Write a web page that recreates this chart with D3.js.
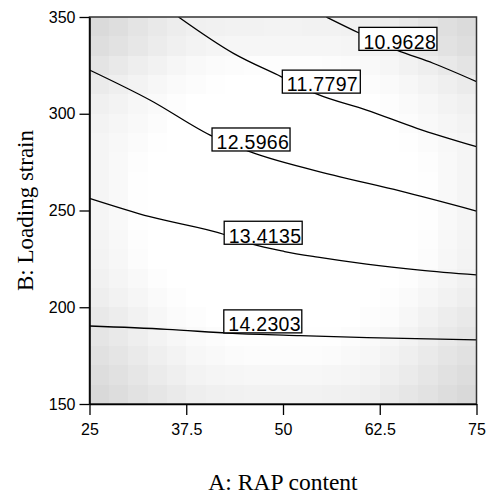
<!DOCTYPE html>
<html>
<head>
<meta charset="utf-8">
<script src="https://cdn.jsdelivr.net/npm/d3@7/dist/d3.min.js"></script>
<style>
  body { margin: 0; background: #fff; }
</style>
</head>
<body>
<div class="chart"></div>
<script>
// Contour plot: A: RAP content vs B: Loading strain
var svgWidth = 486;
var svgHeight = 495;

var margin = { top: 17, right: 9.5, bottom: 91, left: 89.5 };
var width = svgWidth - margin.left - margin.right;
var height = svgHeight - margin.top - margin.bottom;

// axis ticks
var xTicks = [25, 37.5, 50, 62.5, 75];
var yTicks = [150, 200, 250, 300, 350];

// contour levels and their lines (A, B)
var levels = ["10.9628", "11.7797", "12.5966", "13.4135", "14.2303"];
var line10 = [[55.6, 350], [59.9, 341.6], [64.7, 332.9], [69.4, 326.1], [75, 316.6]];
var line11 = [[36.5, 350], [43.6, 331.2], [49.8, 319.1], [54.4, 310.1], [60.8, 301.9], [67.3, 292.5], [75, 283.0]];
var line12 = [[25, 322.6], [32.8, 307.1], [41.0, 288.1], [45.7, 280.4], [56.5, 268.3], [65.1, 260.1], [75, 249.7]];
var line13 = [[25, 256.3], [32.8, 246.8], [42.4, 237.6], [45.9, 232.7], [50.2, 228.8], [54.5, 225.9], [60.8, 222.3], [67.7, 219.2], [75, 216.7]];
var line14 = [[25, 190.3], [35, 188.6], [43.5, 186.5], [52.2, 185.3], [60.9, 184.3], [75, 183.1]];

// label box centres (A, B)
var labelA = [64.85, 54.95, 45.87, 47.44, 47.39];
var labelB = [338.7, 316.6, 286.7, 238.5, 192.7];

// background shading, 20 x 20 cells, darkness (255 - grey), top row first
var shade = [
  [37, 33, 27, 22, 18, 15, 14, 13, 13, 12, 12, 13, 13, 14, 15, 18, 22, 27, 32, 36],
  [33, 29, 24, 19, 15, 12, 10, 9, 9, 9, 9, 9, 9, 10, 12, 15, 19, 24, 29, 33],
  [27, 22, 17, 13, 9, 6, 4, 3, 2, 2, 2, 2, 3, 4, 6, 9, 13, 17, 22, 27],
  [20, 16, 12, 8, 5, 3, 1, 0, 0, 0, 0, 0, 0, 1, 3, 5, 8, 12, 16, 20],
  [15, 12, 8, 5, 2, 0, 0, 0, 0, 0, 0, 0, 0, 0, 0, 2, 5, 8, 12, 15],
  [12, 9, 6, 3, 0, 0, 0, 0, 0, 0, 0, 0, 0, 0, 0, 0, 3, 6, 9, 12],
  [10, 7, 4, 1, 0, 0, 0, 0, 0, 0, 0, 0, 0, 0, 0, 0, 1, 4, 7, 10],
  [10, 6, 2, 0, 0, 0, 0, 0, 0, 0, 0, 0, 0, 0, 0, 0, 0, 2, 6, 10],
  [10, 6, 1, 0, 0, 0, 0, 0, 0, 0, 0, 0, 0, 0, 0, 0, 0, 1, 6, 10],
  [10, 6, 1, 0, 0, 0, 0, 0, 0, 0, 0, 0, 0, 0, 0, 0, 0, 1, 6, 10],
  [10, 6, 1, 0, 0, 0, 0, 0, 0, 0, 0, 0, 0, 0, 0, 0, 0, 1, 6, 10],
  [11, 7, 2, 0, 0, 0, 0, 0, 0, 0, 0, 0, 0, 0, 0, 0, 0, 2, 7, 11],
  [12, 8, 3, 0, 0, 0, 0, 0, 0, 0, 0, 0, 0, 0, 0, 0, 0, 3, 8, 12],
  [14, 10, 6, 2, 0, 0, 0, 0, 0, 0, 0, 0, 0, 0, 0, 0, 2, 6, 10, 14],
  [17, 13, 9, 5, 2, 0, 0, 0, 0, 0, 0, 0, 0, 0, 0, 2, 5, 9, 13, 17],
  [22, 18, 13, 8, 4, 2, 0, 0, 0, 0, 0, 0, 0, 0, 2, 4, 8, 13, 18, 22],
  [26, 22, 17, 12, 8, 5, 3, 1, 1, 1, 1, 1, 1, 3, 5, 8, 12, 17, 22, 26],
  [30, 26, 21, 16, 12, 8, 6, 4, 3, 3, 3, 3, 4, 6, 8, 12, 16, 21, 26, 30],
  [34, 30, 25, 20, 16, 12, 10, 9, 8, 8, 8, 8, 9, 10, 12, 16, 20, 25, 30, 34],
  [38, 34, 29, 25, 21, 17, 15, 14, 13, 13, 13, 13, 14, 15, 17, 21, 25, 29, 34, 38]
];

var svg = d3.select(".chart")
  .append("svg")
  .attr("width", svgWidth)
  .attr("height", svgHeight);

var chartGroup = svg.append("g")
  .attr("transform", `translate(${margin.left}, ${margin.top})`);

var xLinearScale = d3.scaleLinear().domain([25, 75]).range([0, width]);
var yLinearScale = d3.scaleLinear().domain([150, 350]).range([height, 0]);

// shaded cells
var nCols = shade[0].length;
var nRows = shade.length;
var cellA = 50 / nCols;
var cellB = 200 / nRows;
var cells = [];
shade.forEach(function (row, j) {
  row.forEach(function (d, i) {
    cells.push({ i: i, j: j, d: d });
  });
});

chartGroup.append("g")
  .selectAll("rect")
  .data(cells)
  .enter()
  .append("rect")
  .attr("x", d => xLinearScale(25 + d.i * cellA))
  .attr("y", d => yLinearScale(350 - d.j * cellB))
  .attr("width", d => xLinearScale(25 + (d.i + 1) * cellA) - xLinearScale(25 + d.i * cellA) + 0.5)
  .attr("height", d => yLinearScale(350 - (d.j + 1) * cellB) - yLinearScale(350 - d.j * cellB) + 0.5)
  .attr("fill", d => d3.rgb(255 - d.d, 255 - d.d, 255 - d.d))
  .attr("shape-rendering", "crispEdges");

// clip for contours
svg.append("defs").append("clipPath")
  .attr("id", "plotClip")
  .append("rect")
  .attr("width", width)
  .attr("height", height);

var lineGen = d3.line()
  .x(d => xLinearScale(d[0]))
  .y(d => yLinearScale(d[1]))
  .curve(d3.curveMonotoneX);

var contourLines = [line10, line11, line12, line13, line14];

chartGroup.append("g")
  .attr("clip-path", "url(#plotClip)")
  .selectAll("path")
  .data(contourLines)
  .enter()
  .append("path")
  .attr("d", lineGen)
  .attr("fill", "none")
  .attr("stroke", "#000")
  .attr("stroke-width", 1.3);

// contour labels
var labelGroup = chartGroup.selectAll(".clabel")
  .data(levels)
  .enter()
  .append("g")
  .attr("class", "clabel")
  .attr("transform", (d, i) => `translate(${xLinearScale(labelA[i])}, ${yLinearScale(labelB[i])})`);

labelGroup.append("rect")
  .attr("x", -39)
  .attr("y", -11.5)
  .attr("width", 78)
  .attr("height", 23)
  .attr("fill", "#fff")
  .attr("stroke", "#000")
  .attr("stroke-width", 1.3);

labelGroup.append("text")
  .attr("x", -34.5)
  .attr("y", 9.8)
  .attr("font-family", "Liberation Sans, Arial, sans-serif")
  .attr("font-size", "19.5px")
  .attr("letter-spacing", "0.3px")
  .attr("fill", "#000")
  .text(d => d);

// frame
chartGroup.append("rect")
  .attr("width", width)
  .attr("height", height)
  .attr("fill", "none")
  .attr("stroke", "#333")
  .attr("stroke-width", 1.5);

// axes
var bottomAxis = d3.axisBottom(xLinearScale)
  .tickValues(xTicks)
  .tickSize(11)
  .tickSizeOuter(0)
  .tickPadding(9)
  .tickFormat(d => d);

var leftAxis = d3.axisLeft(yLinearScale)
  .tickValues(yTicks)
  .tickSize(10)
  .tickSizeOuter(0)
  .tickPadding(4)
  .tickFormat(d => d);

var xAxis = chartGroup.append("g")
  .attr("transform", `translate(0, ${height})`)
  .call(bottomAxis);

var yAxis = chartGroup.append("g")
  .call(leftAxis);

[xAxis, yAxis].forEach(function (ax) {
  ax.select(".domain").attr("stroke", "#000").attr("stroke-width", 1.5);
  ax.selectAll(".tick line").attr("stroke", "#000").attr("stroke-width", 1.3);
  ax.selectAll(".tick text")
    .attr("font-family", "Liberation Sans, Arial, sans-serif")
    .attr("font-size", "16px")
    .attr("fill", "#000");
});

// axis titles
svg.append("text")
  .attr("x", margin.left + width / 2)
  .attr("y", 490)
  .attr("text-anchor", "middle")
  .attr("font-family", "Liberation Serif, Times New Roman, serif")
  .attr("font-size", "23.5px")
  .attr("fill", "#000")
  .text("A: RAP content");

svg.append("text")
  .attr("transform", "rotate(-90)")
  .attr("x", -(margin.top + height / 2))
  .attr("y", 33)
  .attr("text-anchor", "middle")
  .attr("font-family", "Liberation Serif, Times New Roman, serif")
  .attr("font-size", "23px")
  .attr("fill", "#000")
  .text("B: Loading strain");
</script>
</body>
</html>
